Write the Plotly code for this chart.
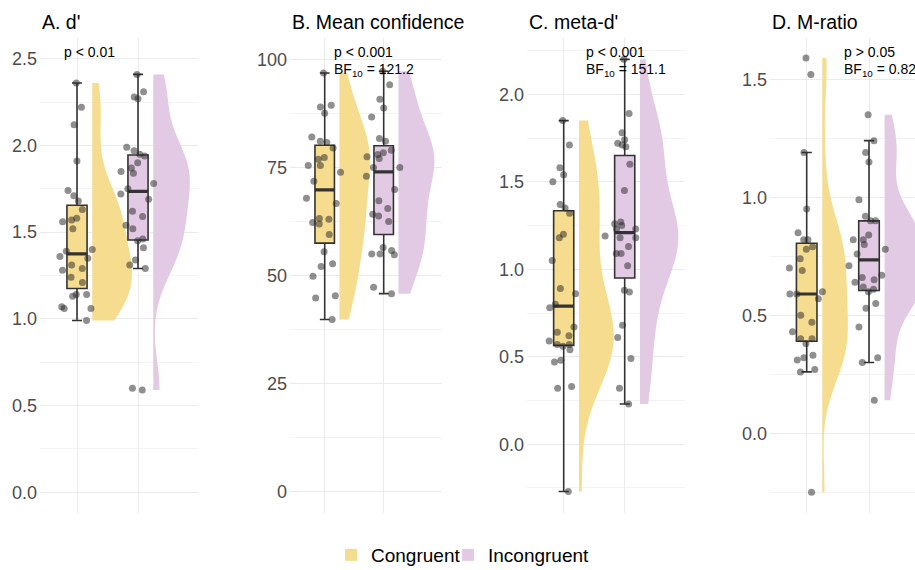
import numpy as np
import plotly.graph_objects as go

# ---------------- data ----------------
CONDITIONS = ["Congruent", "Incongruent"]
PANEL_TITLES = ["A. d'", "B. Mean confidence", "C. meta-d'", "D. M-ratio"]
STAT_P = ["p < 0.01", "p < 0.001", "p < 0.001", "p > 0.05"]
STAT_BF = [None, "BF<sub>10</sub> = 121.2", "BF<sub>10</sub> = 151.1", "BF<sub>10</sub> = 0.82"]

DPRIME_CONG = [2.36, 2.22, 2.12, 1.91, 1.74, 1.71, 1.68, 1.63, 1.58, 1.56, 1.57, 1.52, 1.40, 1.39,
               1.36, 1.35, 1.31, 1.29, 1.28, 1.24, 1.21, 1.14, 1.13, 1.14, 1.07, 1.06, 1.06, 0.99]
DPRIME_INCONG = [2.41, 2.31, 2.28, 2.27, 1.99, 1.97, 1.95, 1.94, 1.90, 1.87, 1.85, 1.84, 1.78, 1.75,
                 1.72, 1.69, 1.62, 1.59, 1.54, 1.52, 1.46, 1.45, 1.41, 1.34, 1.31, 1.29, 0.60, 0.59]
CONF_CONG = [96.9, 89.0, 87.6, 89.4, 82.1, 80.8, 79.5, 81.1, 77.3, 75.5, 75.5, 76.9, 73.9, 71.8,
             67.9, 66.7, 63.2, 62.3, 61.9, 63.0, 59.5, 55.5, 52.7, 52.1, 49.8, 44.8, 45.3, 39.8]
CONF_INCONG = [97.3, 94.2, 90.8, 88.8, 86.7, 81.1, 79.0, 81.7, 78.4, 77.5, 77.1, 78.0, 75.0, 75.0,
               73.0, 69.9, 67.3, 65.5, 64.2, 63.8, 62.5, 56.5, 55.8, 55.0, 55.0, 54.8, 47.3, 45.8]
METAD_CONG = [1.85, 1.71, 1.58, 1.54, 1.50, 1.37, 1.35, 1.32, 1.20, 1.18, 1.05, 0.89, 0.86, 0.78,
              0.80, 0.67, 0.64, 0.59, 0.62, 0.57, 0.57, 0.56, 0.54, 0.47, 0.48, 0.32, 0.33, -0.27]
METAD_INCONG = [2.20, 1.89, 1.78, 1.72, 1.70, 1.74, 1.71, 1.60, 1.45, 1.23, 1.26, 1.25, 1.27, 1.23,
                1.18, 1.18, 1.19, 1.13, 1.09, 1.09, 1.02, 0.87, 0.88, 0.68, 0.61, 0.49, 0.32, 0.23]
MRATIO_CONG = [1.59, 1.52, 1.19, 0.95, 0.85, 0.78, 0.82, 0.79, 0.82, 0.70, 0.69, 0.74, 0.60, 0.59,
               0.59, 0.57, 0.50, 0.47, 0.43, 0.40, 0.40, 0.38, 0.33, 0.31, 0.32, 0.26, 0.27, -0.25]
MRATIO_INCONG = [1.35, 1.24, 1.19, 1.15, 0.99, 0.92, 0.90, 0.90, 0.84, 0.82, 0.82, 0.80, 0.78, 0.76,
                 0.71, 0.66, 0.67, 0.64, 0.65, 0.61, 0.62, 0.60, 0.55, 0.53, 0.45, 0.32, 0.30, 0.14]

PANEL_DATA = [
    (DPRIME_CONG, DPRIME_INCONG),
    (CONF_CONG, CONF_INCONG),
    (METAD_CONG, METAD_INCONG),
    (MRATIO_CONG, MRATIO_INCONG),
]

# ---------------- style / layout constants ----------------
W, H = 915, 570
FILLS = ["#F6DC8E", "#E3CAE4"]
BOX_LINE = "#333333"
POINT_COLOR = "rgba(40,40,40,0.52)"
FONT = "Liberation Sans, Arial, Helvetica, sans-serif"

# pixel geometry of each panel: plot left, plot right, first category centre, category spacing
PANEL_PX = [(40, 198, 77.0, 61.0), (290, 442, 324.7, 59.0),
            (527, 685, 563.7, 61.0), (770, 915, 806.7, 62.3)]
PLOT_TOP, PLOT_BOTTOM = 38, 513
Y_RANGES = [(-0.12, 2.62), (-5, 105), (-0.393, 2.322), (-0.338, 1.675)]
Y_DTICK = [0.5, 25, 0.5, 0.5]
Y_FORMAT = [".1f", "d", ".1f", ".1f"]
STAT_X_PX = [61.7, 331.7, 584.0, 841.7]
LEGEND_X_PX = [331, 448]

BOX_WIDTH = 0.33
JITTER_WIDTH = 0.66
VIOLIN_OFFSET = 0.25
# maximum sideways extent of each half violin (x units), per panel: (congruent, incongruent)
VIOLIN_EXTENT = [(0.65, 0.60), (0.52, 0.61), (0.57, 0.63), (0.41, 0.66)]


def nrd0(v):
    v = np.asarray(v, dtype=float)
    sd = v.std(ddof=1)
    iqr = np.subtract(*np.percentile(v, [75, 25]))
    lo = min(sd, iqr / 1.34) if iqr > 0 else sd
    return 0.9 * lo * len(v) ** (-0.2)


fig = go.Figure()
layout = dict(
    width=W, height=H, margin=dict(l=0, r=0, t=0, b=0, autoexpand=False),
    paper_bgcolor="white", plot_bgcolor="white",
    font=dict(family=FONT, color="black"),
    boxmode="overlay", violinmode="overlay",
    showlegend=True,
)
for k, lx in enumerate(LEGEND_X_PX):
    layout["legend" if k == 0 else f"legend{k + 1}"] = dict(
        orientation="h", x=lx / W, xanchor="left", y=1 - 555 / H, yanchor="middle",
        font=dict(size=19, family=FONT, color="black"), bgcolor="rgba(0,0,0,0)",
        itemclick=False, itemdoubleclick=False, borderwidth=0,
    )
annotations = []

for p, (groups, title) in enumerate(zip(PANEL_DATA, PANEL_TITLES)):
    xa = "x" if p == 0 else f"x{p + 1}"
    ya = "y" if p == 0 else f"y{p + 1}"
    left, right, c0, sp = PANEL_PX[p]
    for i, vals in enumerate(groups):
        # half violin (density)
        fig.add_trace(go.Violin(
            y=vals, x0=i + VIOLIN_OFFSET, name=CONDITIONS[i], side="positive",
            width=2 * VIOLIN_EXTENT[p][i], spanmode="hard", bandwidth=nrd0(vals),
            scalemode="width", scalegroup=f"panel{p}_group{i}",
            fillcolor=FILLS[i], line=dict(width=0, color=FILLS[i]), opacity=1,
            points=False, box_visible=False, meanline_visible=False,
            legend="legend" if i == 0 else "legend2",
            legendgroup=CONDITIONS[i], showlegend=(p == 0),
            hoverinfo="skip", xaxis=xa, yaxis=ya,
        ))
        # box plot
        fig.add_trace(go.Box(
            y=vals, x0=i, name=CONDITIONS[i], width=BOX_WIDTH,
            fillcolor=FILLS[i], line=dict(color=BOX_LINE, width=1.6),
            boxpoints="outliers", marker=dict(opacity=0, size=1),
            legendgroup=CONDITIONS[i], showlegend=False,
            hoverinfo="skip", xaxis=xa, yaxis=ya,
        ))
        # thicker median line (ggplot fatten), from the sample median
        med = float(np.median(vals))
        fig.add_trace(go.Box(
            x=[i], q1=[med], median=[med], q3=[med], lowerfence=[med], upperfence=[med],
            width=BOX_WIDTH, fillcolor="rgba(0,0,0,0)", line=dict(color=BOX_LINE, width=3.2),
            boxpoints=False, name=CONDITIONS[i], legendgroup=CONDITIONS[i], showlegend=False,
            hoverinfo="skip", xaxis=xa, yaxis=ya,
        ))
        # jittered raw points
        fig.add_trace(go.Box(
            y=vals, x0=i, name=CONDITIONS[i], width=JITTER_WIDTH,
            fillcolor="rgba(0,0,0,0)", line=dict(color="rgba(0,0,0,0)", width=0),
            boxpoints="all", jitter=1, pointpos=0,
            marker=dict(color=POINT_COLOR, size=7, line=dict(width=0)),
            legendgroup=CONDITIONS[i], showlegend=False,
            hoverinfo="skip", xaxis=xa, yaxis=ya,
        ))

    xr = (-(c0 - left) / sp, (right - c0) / sp)
    key_x = "xaxis" if p == 0 else f"xaxis{p + 1}"
    key_y = "yaxis" if p == 0 else f"yaxis{p + 1}"
    layout[key_x] = dict(
        domain=[left / W, right / W], range=list(xr), anchor=ya,
        tickvals=[0, 1], showticklabels=False,
        showgrid=True, gridcolor="#EBEBEB", gridwidth=1, zeroline=False,
        showline=False, ticks="", fixedrange=True,
    )
    layout[key_y] = dict(
        domain=[1 - PLOT_BOTTOM / H, 1 - PLOT_TOP / H], range=list(Y_RANGES[p]), anchor=xa,
        dtick=Y_DTICK[p], tick0=0, tickformat=Y_FORMAT[p],
        showgrid=True, gridcolor="#EBEBEB", gridwidth=1, zeroline=False,
        showline=False, ticks="", automargin=False,
        tickfont=dict(size=18, color="#4D4D4D", family=FONT),
        minor=dict(dtick=Y_DTICK[p] / 2, tick0=0, showgrid=True, gridcolor="#F3F3F3", gridwidth=0.6),
        ticklabelstandoff=2, fixedrange=True,
    )
    annotations.append(dict(
        text=title, xref=f"{xa} domain", x=0, xanchor="left", yref="paper",
        y=1 - 22 / H, yanchor="middle", showarrow=False,
        font=dict(size=19.5, color="black", family=FONT),
    ))
    annotations.append(dict(
        text=STAT_P[p], xref="paper", x=STAT_X_PX[p] / W, xanchor="left", yref="paper",
        y=1 - 52 / H, yanchor="middle", showarrow=False,
        font=dict(size=14, color="black", family=FONT),
    ))
    if STAT_BF[p]:
        annotations.append(dict(
            text=STAT_BF[p], xref="paper", x=STAT_X_PX[p] / W, xanchor="left", yref="paper",
            y=1 - 70 / H, yanchor="middle", showarrow=False,
            font=dict(size=14, color="black", family=FONT),
        ))

layout["annotations"] = annotations
fig.update_layout(**layout)
fig.write_html("out.html", config={"displayModeBar": False},
               post_script="document.body.style.margin='0px';document.body.style.overflow='hidden';")
